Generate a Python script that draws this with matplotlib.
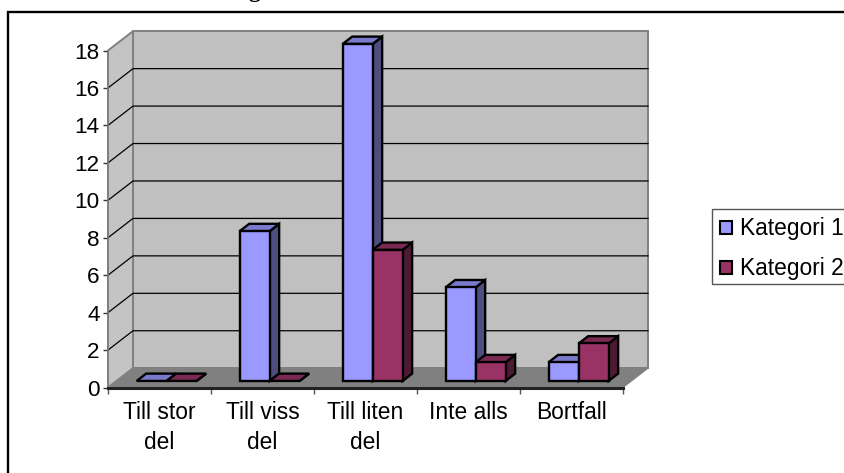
import matplotlib
matplotlib.use("Agg")
import matplotlib.pyplot as plt
from matplotlib.patches import Patch, Rectangle

plt.rcParams['font.family'] = ['Liberation Sans', 'DejaVu Sans']

categories = ['Till stor\ndel', 'Till viss\ndel', 'Till liten\ndel', 'Inte alls', 'Bortfall']
kategori_1 = [0, 8, 18, 5, 1]
kategori_2 = [0, 0, 7, 1, 2]
y_ticks = [0, 2, 4, 6, 8, 10, 12, 14, 16, 18]

W, H = 844, 473
fig = plt.figure(figsize=(W / 100, H / 100), dpi=100)

# front plane of the box in pixels
left, right, y_zero, y_top = 108, 623, 387.5, 50.5
ax = fig.add_axes([left / W, 1 - y_zero / H, (right - left) / W, (y_zero - y_top) / H])
ax.set_xlim(0, 5)
ax.set_ylim(0, 18)
ax.patch.set_visible(False)

# oblique depth of the box, in data units
px_x = 5 / (right - left)
px_y = 18 / (y_zero - y_top)
depth_x = 25 * px_x
depth_y = 19.3 * px_y


def proj(x, y, d):
    return x + d * depth_x, y + d * depth_y


def quad(points, **kw):
    xs = [proj(*p)[0] for p in points]
    ys = [proj(*p)[1] for p in points]
    ax.fill(xs, ys, clip_on=False, **kw)


# walls and floor
quad([(0, 0, 1), (5, 0, 1), (5, 18, 1), (0, 18, 1)], fc='#C0C0C0', ec='#808080', lw=1.4, zorder=1)
quad([(0, 0, 0), (0, 0, 1), (0, 18, 1), (0, 18, 0)], fc='#C4C4C4', ec='#808080', lw=1.4, zorder=1)
quad([(0, 0, 0), (5, 0, 0), (5, 0, 1), (0, 0, 1)], fc='#808080', ec='#808080', lw=0.8, zorder=2)

# gridlines run along the side wall and across the back
for v in y_ticks[1:-1]:
    xs = [proj(0, v, 0)[0], proj(0, v, 1)[0], proj(5, v, 1)[0]]
    ys = [proj(0, v, 0)[1], proj(0, v, 1)[1], proj(5, v, 1)[1]]
    ax.plot(xs, ys, color='black', lw=0.9, clip_on=False, zorder=2)

bar_w = 0.291
bar_off = 0.196
d0, d1 = 0.34, 0.72
edge = dict(ec='black', lw=1.7, joinstyle='miter')


def bar3d(x0, value, front, top, side, z):
    x1 = x0 + bar_w
    quad([(x1, 0, d0), (x1, 0, d1), (x1, value, d1), (x1, value, d0)], fc=side, zorder=z, **edge)
    quad([(x0, value, d0), (x1, value, d0), (x1, value, d1), (x0, value, d1)], fc=top, zorder=z, **edge)
    if value > 0:
        quad([(x0, 0, d0), (x1, 0, d0), (x1, value, d0), (x0, value, d0)], fc=front, zorder=z, **edge)


for i in range(len(categories)):
    # nearer categories to the right never overlap, so series order is enough
    bar3d(i + bar_off, kategori_1[i], '#9999FF', '#7A7ACC', '#4D4D80', 3 + i * 0.1)
    bar3d(i + bar_off + bar_w, kategori_2[i], '#993366', '#7A2952', '#4D1A33', 3.05 + i * 0.1)

for name in ['top', 'right']:
    ax.spines[name].set_visible(False)
ax.spines['left'].set_color('#808080')
ax.spines['left'].set_linewidth(1.2)
ax.spines['bottom'].set_color('#222222')
ax.spines['bottom'].set_linewidth(2.2)
ax.spines['bottom'].set_zorder(6)

ax.set_yticks(y_ticks)
ax.tick_params(axis='y', length=3.5, width=1, color='#333333', labelsize=16.2, pad=2.5)
ax.set_xticks(range(len(categories) + 1))
ax.set_xticklabels([])
ax.set_xticks([i + 0.5 for i in range(len(categories))], minor=True)
ax.set_xticklabels(categories, minor=True, fontsize=16.4, linespacing=1.38)
ax.tick_params(axis='x', which='major', length=4.5, width=1, color='#555555')
ax.tick_params(axis='x', which='minor', length=0, pad=10)

# legend box is drawn apart so it can run past the right edge
fig.add_artist(Rectangle((711.5 / W, 1 - 284 / H), 140 / W, 75 / H, transform=fig.transFigure,
                         fc='white', ec='#555555', lw=1, zorder=1))
handles = [Patch(fc='#9999FF', ec='black', lw=1.5, label='Kategori 1'),
           Patch(fc='#993366', ec='black', lw=1.5, label='Kategori 2')]
leg = fig.legend(handles=handles, loc='upper left', bbox_to_anchor=(713.5 / W, 1 - 211 / H),
                 borderaxespad=0, frameon=False, fontsize=16.4, handlelength=0.52,
                 handleheight=0.52, handletextpad=0.36, labelspacing=0.75, borderpad=0.28)
leg.set_zorder(2)

# outer border runs off the right and bottom edges
fig.add_artist(Rectangle((8 / W, -0.1), 1, 1.1 - 12 / H, transform=fig.transFigure,
                         fc='none', ec='black', lw=1.7, zorder=0))

# tail of the heading above the border
fig.text(254.5 / W, 1 + 3.5 / H, 'g', family='Liberation Serif', weight='bold', fontsize=17,
         ha='center', va='baseline')

fig.savefig('out.png', dpi=100)
